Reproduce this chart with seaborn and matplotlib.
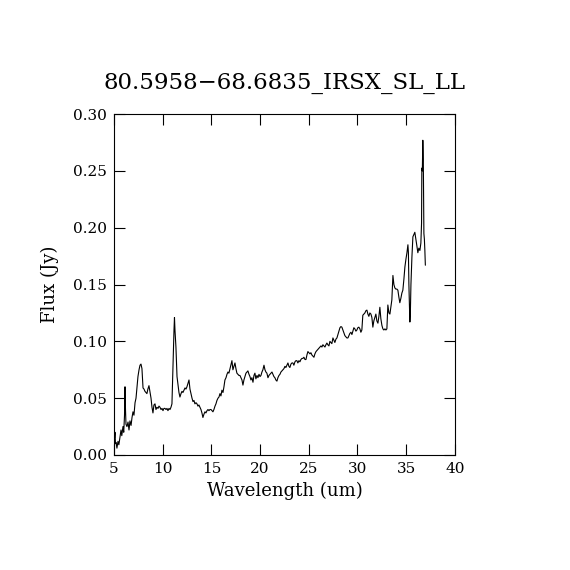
import matplotlib
matplotlib.use("Agg")
import matplotlib.pyplot as plt
import seaborn as sns
import pandas as pd

wavelength = [
    5.00, 5.05, 5.10, 5.15, 5.21, 5.30, 5.41, 5.50, 5.62, 5.72, 5.80, 5.92, 6.00, 6.08, 6.13, 6.18,
    6.23, 6.33, 6.44, 6.54, 6.64, 6.75, 6.85, 6.95, 7.05, 7.16, 7.26, 7.36, 7.46, 7.57, 7.67, 7.77,
    7.87, 7.98, 8.08, 8.18, 8.28, 8.38, 8.48, 8.59, 8.70, 8.80, 8.90, 9.00, 9.10, 9.21, 9.31, 9.41,
    9.52, 9.62, 9.72, 9.83, 9.93, 10.03, 10.13, 10.23, 10.34, 10.44, 10.54, 10.65, 10.75, 10.85,
    10.95, 11.06, 11.16, 11.21, 11.26, 11.36, 11.47, 11.57, 11.67, 11.77, 11.88, 11.98, 12.08,
    12.18, 12.29, 12.39, 12.49, 12.60, 12.70, 12.80, 12.90, 13.01, 13.11, 13.21, 13.31, 13.42,
    13.52, 13.62, 13.72, 13.83, 13.93, 14.03, 14.13, 14.24, 14.34, 14.44, 14.55, 14.65, 14.75,
    14.85, 14.96, 15.06, 15.16, 15.26, 15.37, 15.47, 15.57, 15.68, 15.78, 15.88, 15.98, 16.08,
    16.19, 16.29, 16.39, 16.50, 16.60, 16.70, 16.80, 16.91, 17.01, 17.11, 17.21, 17.32, 17.42,
    17.52, 17.62, 17.73, 17.83, 17.93, 18.03, 18.14, 18.24, 18.34, 18.45, 18.55, 18.65, 18.75,
    18.86, 18.96, 19.06, 19.16, 19.27, 19.37, 19.47, 19.57, 19.68, 19.78, 19.89, 19.99, 20.09,
    20.19, 20.29, 20.40, 20.50, 20.60, 20.70, 20.81, 20.91, 21.01, 21.11, 21.22, 21.32, 21.42,
    21.52, 21.62, 21.73, 21.83, 21.94, 22.04, 22.14, 22.24, 22.35, 22.45, 22.55, 22.65, 22.76,
    22.86, 22.96, 23.06, 23.17, 23.27, 23.37, 23.47, 23.58, 23.68, 23.78, 23.88, 23.99, 24.09,
    24.19, 24.30, 24.40, 24.50, 24.61, 24.71, 24.81, 24.91, 25.01, 25.12, 25.22, 25.32, 25.43,
    25.53, 25.63, 25.74, 25.84, 25.94, 26.04, 26.14, 26.25, 26.35, 26.45, 26.55, 26.66, 26.76,
    26.86, 26.96, 27.07, 27.17, 27.27, 27.37, 27.48, 27.58, 27.68, 27.79, 27.89, 27.99, 28.09,
    28.20, 28.30, 28.40, 28.50, 28.61, 28.71, 28.81, 28.91, 29.02, 29.12, 29.22, 29.33, 29.43,
    29.53, 29.63, 29.73, 29.84, 29.94, 30.04, 30.14, 30.25, 30.35, 30.45, 30.55, 30.66, 30.76,
    30.87, 30.97, 31.07, 31.17, 31.27, 31.38, 31.48, 31.58, 31.68, 31.79, 31.89, 31.99, 32.10,
    32.20, 32.30, 32.40, 32.51, 32.61, 32.71, 32.82, 32.92, 33.02, 33.12, 33.23, 33.33, 33.43,
    33.53, 33.64, 33.74, 33.84, 33.94, 34.05, 34.15, 34.25, 34.35, 34.46, 34.56, 34.66, 34.77,
    34.87, 34.97, 35.08, 35.18, 35.23, 35.28, 35.33, 35.38, 35.43, 35.49, 35.59, 35.69, 35.79,
    35.89, 36.00, 36.10, 36.20, 36.30, 36.41, 36.51, 36.58, 36.61, 36.66, 36.71, 36.76, 36.82,
    36.87, 36.92, 36.97,
]

flux = [
    0.028, 0.015, 0.020, 0.010, 0.011, 0.006, 0.012, 0.009, 0.016, 0.022, 0.017, 0.025, 0.020, 0.035, 0.060, 0.040,
    0.027, 0.025, 0.029, 0.022, 0.030, 0.026, 0.033, 0.038, 0.035, 0.046, 0.050, 0.060, 0.069, 0.075, 0.079, 0.080,
    0.076, 0.059, 0.058, 0.056, 0.055, 0.054, 0.058, 0.061, 0.055, 0.050, 0.042, 0.037, 0.044, 0.045, 0.040, 0.042,
    0.041, 0.043, 0.042, 0.040, 0.041, 0.039, 0.041, 0.041, 0.040, 0.041, 0.039, 0.041, 0.040, 0.042,
    0.045, 0.081, 0.110, 0.121, 0.110, 0.095, 0.069, 0.062, 0.055, 0.051, 0.054, 0.056, 0.055,
    0.057, 0.059, 0.058, 0.060, 0.063, 0.066, 0.058, 0.054, 0.050, 0.047, 0.048, 0.045, 0.046,
    0.045, 0.043, 0.044, 0.042, 0.040, 0.037, 0.033, 0.036, 0.038, 0.037, 0.039, 0.040, 0.039,
    0.040, 0.040, 0.039, 0.038, 0.040, 0.043, 0.045, 0.048, 0.050, 0.051, 0.054, 0.052, 0.057,
    0.055, 0.060, 0.066, 0.068, 0.071, 0.073, 0.072, 0.076, 0.080, 0.083, 0.075, 0.078, 0.081,
    0.076, 0.072, 0.071, 0.070, 0.070, 0.068, 0.066, 0.0615, 0.066, 0.069, 0.072, 0.073, 0.074,
    0.071, 0.069, 0.066, 0.068, 0.064, 0.070, 0.072, 0.067, 0.070, 0.068, 0.071, 0.069, 0.070,
    0.073, 0.075, 0.079, 0.075, 0.073, 0.072, 0.068, 0.070, 0.071, 0.072, 0.073, 0.071, 0.069,
    0.068, 0.066, 0.065, 0.068, 0.070, 0.071, 0.073, 0.074, 0.075, 0.076, 0.078, 0.077, 0.079,
    0.081, 0.078, 0.077, 0.080, 0.081, 0.081, 0.079, 0.082, 0.083, 0.083, 0.081, 0.083, 0.082,
    0.084, 0.085, 0.085, 0.086, 0.084, 0.084, 0.088, 0.091, 0.090, 0.089, 0.090, 0.088, 0.087,
    0.086, 0.089, 0.091, 0.092, 0.093, 0.094, 0.095, 0.096, 0.095, 0.097, 0.096, 0.095, 0.097,
    0.0985, 0.097, 0.096, 0.100, 0.099, 0.098, 0.103, 0.101, 0.099, 0.102, 0.103, 0.106, 0.109,
    0.112, 0.113, 0.1125, 0.110, 0.107, 0.105, 0.104, 0.103, 0.103, 0.105, 0.107, 0.108, 0.106,
    0.109, 0.112, 0.111, 0.109, 0.110, 0.112, 0.1125, 0.111, 0.108, 0.110, 0.123, 0.124, 0.125,
    0.127, 0.1275, 0.124, 0.122, 0.125, 0.124, 0.121, 0.1125, 0.118, 0.121, 0.124, 0.118, 0.116,
    0.122, 0.130, 0.120, 0.114, 0.111, 0.110, 0.111, 0.110, 0.111, 0.132, 0.125, 0.124, 0.130,
    0.1365, 0.158, 0.150, 0.147, 0.146, 0.146, 0.145, 0.139, 0.134, 0.138, 0.1425, 0.145, 0.155,
    0.1655, 0.172, 0.178, 0.185, 0.178, 0.150, 0.134, 0.117, 0.125, 0.150, 0.174, 0.192, 0.194,
    0.196, 0.190, 0.184, 0.178, 0.182, 0.180, 0.1865, 0.204, 0.2525, 0.250, 0.277, 0.260, 0.195,
    0.190, 0.180, 0.167,
]

title = "80.5958\u221268.6835_IRSX_SL_LL"
x_ticks = [5, 10, 15, 20, 25, 30, 35, 40]
y_ticks = [0.00, 0.05, 0.10, 0.15, 0.20, 0.25, 0.30]

df = pd.DataFrame({"wavelength": wavelength, "flux": flux})

sns.set_style("ticks")
plt.rcParams["font.family"] = ["DejaVu Serif"]
plt.rcParams["text.color"] = "black"
plt.rcParams["axes.labelcolor"] = "black"

fig = plt.figure(figsize=(5.7, 5.7), dpi=100)
ax = fig.add_axes([0.2, 0.2018, 0.598, 0.598])

sns.lineplot(data=df, x="wavelength", y="flux", color="black", linewidth=0.8,
             estimator=None, sort=False, ax=ax)

ax.set_xlim(5, 40)
ax.set_ylim(0, 0.30)
ax.set_xticks(x_ticks)
ax.set_xticklabels([str(t) for t in x_ticks])
ax.set_yticks(y_ticks)
ax.set_yticklabels([f"{t:.2f}" for t in y_ticks])
ax.tick_params(direction="in", length=8, width=0.8, top=True, right=True,
               labelsize=11, colors="black", pad=5)
for s in ax.spines.values():
    s.set_linewidth(0.8)
    s.set_color("black")

ax.set_xlabel("Wavelength (um)", fontsize=13, labelpad=4)
ax.set_ylabel("Flux (Jy)", fontsize=13, labelpad=10)
ax.set_title(title, fontsize=16.5, pad=18, color="black")

fig.savefig("out.png", dpi=100, facecolor="white")
